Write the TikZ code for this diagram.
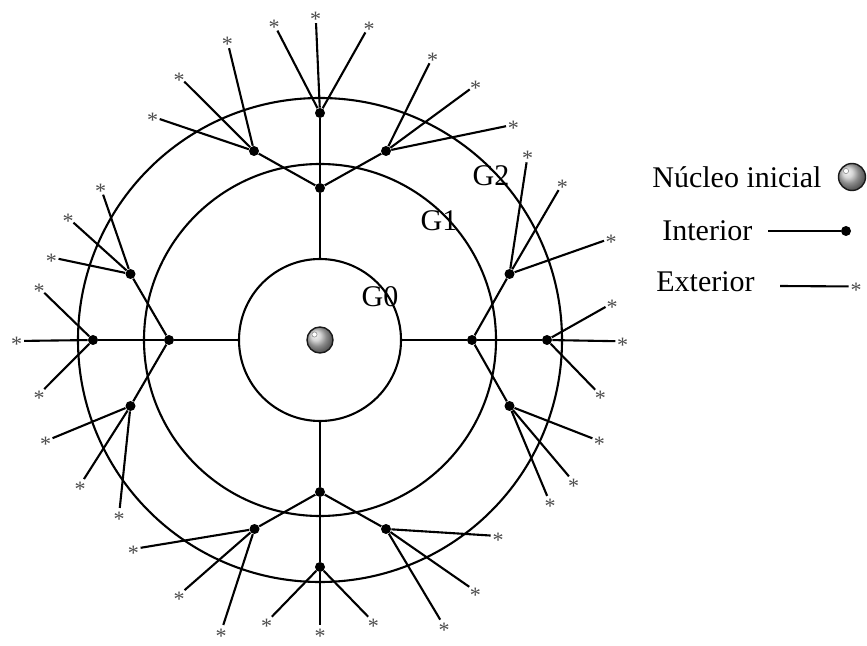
\documentclass[tikz,border=0pt]{standalone}
\usepackage{fontspec}
\setmainfont{Liberation Serif}
\newcommand{\astmark}{\raisebox{-0.5em}[0pt][0pt]{*}}
\begin{document}
\begin{tikzpicture}[x=0.5pt, y=-0.5pt,
  ln/.style={line width=1.05pt},
  ring/.style={circle, draw, line width=1.05pt, inner sep=0pt},
  dot/.style={circle, fill=black, inner sep=0pt, minimum size=5pt},
  ext/.style={circle, inner sep=0pt, minimum size=7pt, text=black!70, font=\fontsize{11}{11}\selectfont},
  lab/.style={font=\fontsize{15}{18}\selectfont, inner sep=0pt},
  sphere/.style={circle, inner sep=0pt, shading=ball, ball color=black!22, draw=black!90, line width=0.7pt},
  hl/.style={circle, inner sep=0pt, fill=white, draw=black!45, line width=0.3pt, minimum size=2.6pt}]
\useasboundingbox (0,0) rectangle (867,646);

% rings
\node[ring, minimum size=81pt] (g0) at (320,340) {};
\node[ring, minimum size=176pt] (g1) at (320,340) {};
\node[ring, minimum size=242pt] (g2) at (320,340) {};

% ring labels
\node[lab, anchor=base] (lg0) at (380,307) {G0};
\node[lab, anchor=base] (lg1) at (439,231) {G1};
\node[lab, anchor=base] (lg2) at (491,186) {G2};

% core
\node[sphere, minimum size=13pt] (core) at (320,340) {};
\node[hl] (corehl) at (314.5,334.5) {};

% level 1
\node[dot] (t1) at (320,188) {};
\node[dot] (l1) at (169,340) {};
\node[dot] (r1) at (472,340) {};
\node[dot] (d1) at (320,492) {};
\draw[ln] (g0.north) -- (t1);
\draw[ln] (g0.west) -- (l1);
\draw[ln] (g0.east) -- (r1);
\draw[ln] (g0.south) -- (d1);

% level 2
\node[dot] (ta) at (254,151) {};
\node[dot] (tb) at (320,113) {};
\node[dot] (tc) at (386,151) {};
\node[dot] (la) at (130.5,274) {};
\node[dot] (lb) at (93,340) {};
\node[dot] (lc) at (130.5,406) {};
\node[dot] (ra) at (509.5,274) {};
\node[dot] (rb) at (547,340) {};
\node[dot] (rc) at (509.5,406) {};
\node[dot] (da) at (254.5,529) {};
\node[dot] (db) at (320,567) {};
\node[dot] (dc) at (386,529) {};
\foreach \a/\b in {t1/ta,t1/tb,t1/tc,l1/la,l1/lb,l1/lc,r1/ra,r1/rb,r1/rc,d1/da,d1/db,d1/dc}
  \draw[ln] (\a) -- (\b);

% exterior
\foreach \p/\n/\x/\y in {
  ta/1/152.7/116.7, ta/2/179/76.3, ta/3/227.3/41,
  tb/1/274/24, tb/2/315.7/15.7, tb/3/369/26,
  tc/1/432.7/56.7, tc/2/475.7/85, tc/3/513.3/124.7,
  ra/1/527.7/155, ra/2/562.3/183.7, ra/3/611/238.3,
  rb/1/612/303.3, rb/2/622.7/341.3, rb/3/600.3/395,
  rc/1/599.3/441, rc/2/573.7/482, rc/3/550/502.7,
  la/1/100.7/187.7, la/2/68/217.7, la/3/51.3/257.3,
  lb/1/39/287.7, lb/2/16.7/341, lb/3/39/394.3,
  lc/1/45.7/441, lc/2/80/485.3, lc/3/119/515.3,
  da/1/133.3/549, da/2/179/595, da/3/221/632,
  db/1/266.7/622, db/2/320/632, db/3/373.3/622,
  dc/1/498/536, dc/2/475.3/591, dc/3/444/626}
{
  \node[ext] (\p s\n) at (\x,\y) {\astmark};
  \draw[ln] (\p) -- (\p s\n);
}

% legend
\node[lab, anchor=base west] (nl) at (652,188) {Núcleo inicial};
\node[sphere, minimum size=13.5pt] (ns) at (852,177) {};
\node[hl] (nshl) at (846,171) {};
\node[lab, anchor=base west] (il) at (662,241) {Interior};
\coordinate (i1) at (768,231);
\node[dot] (i2) at (846,231) {};
\draw[ln] (i1) -- (i2);
\node[lab, anchor=base west] (el) at (656,292) {Exterior};
\coordinate (e1) at (780,286);
\node[ext] (e2) at (856,286.5) {\astmark};
\draw[ln] (e1) -- (e2);
\end{tikzpicture}
\end{document}
